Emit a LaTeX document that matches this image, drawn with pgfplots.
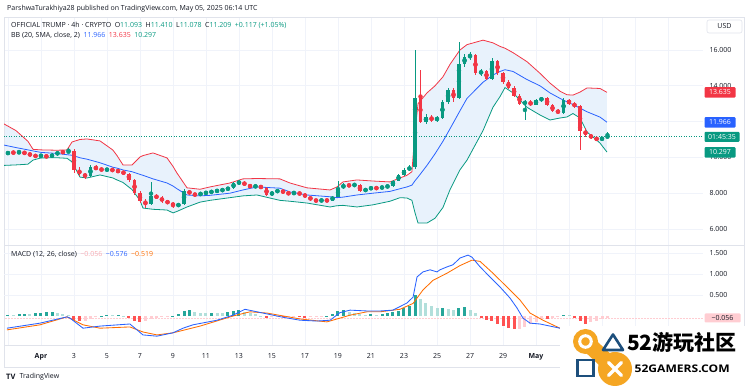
\documentclass[border=0pt]{standalone}
\usepackage{pgfplots}
\usepackage{pgfplotstable}
\pgfplotsset{compat=1.18}
\usepgfplotslibrary{fillbetween}
\usepackage{fontspec}
\setmainfont{Open Sans}
\newfontfamily\cjk{Noto Sans CJK SC}
\definecolor{tvgreen}{HTML}{089981}
\definecolor{tvred}{HTML}{F23645}
\definecolor{tvblue}{HTML}{2962FF}
\definecolor{tvorange}{HTML}{FF6D00}
\definecolor{bbfill}{HTML}{E8F2FC}
\definecolor{gridc}{HTML}{F0F3FA}
\definecolor{framec}{HTML}{E0E3EB}
\definecolor{txt}{HTML}{131722}
\definecolor{hdg}{HTML}{26A69A}
\definecolor{hlg}{HTML}{B2DFDB}
\definecolor{hdr}{HTML}{FF5252}
\definecolor{hlr}{HTML}{FFCDD2}
\definecolor{pinkt}{HTML}{F7A8AE}
\definecolor{wmorange}{HTML}{F5A623}
\definecolor{wmblue}{HTML}{1D4F7C}

\pgfplotstableread{
d o h l c
-2.33 10.15 10.32 10.08 10.20
-2.00 10.20 10.35 10.14 10.28
-1.67 10.28 10.36 10.18 10.25
-1.33 10.25 10.40 10.20 10.30
-1.00 10.30 10.34 10.15 10.22
-0.67 10.22 10.27 10.05 10.12
-0.33 10.12 10.18 9.98 10.05
0.00 10.05 10.20 10.00 10.10
0.33 10.10 10.16 9.95 10.02
0.67 10.02 10.22 9.98 10.15
1.00 10.15 10.36 10.10 10.30
1.33 10.30 10.40 10.20 10.28
1.67 10.28 10.52 10.22 10.35
2.00 10.35 10.45 9.15 9.30
2.33 9.30 9.45 8.95 9.05
2.67 9.05 9.15 8.80 8.95
3.00 8.95 9.55 8.90 9.45
3.33 9.45 9.55 9.28 9.35
3.67 9.35 9.42 9.22 9.30
4.00 9.30 9.40 9.24 9.32
4.33 9.32 9.38 9.20 9.28
4.67 9.28 9.34 9.12 9.20
5.00 9.20 9.26 9.02 9.10
5.33 9.10 9.15 8.65 8.75
5.67 8.75 8.80 7.90 8.00
6.00 8.00 8.10 7.45 7.55
6.33 7.55 7.70 7.18 7.40
6.67 7.40 8.60 7.35 7.85
7.00 7.85 7.95 7.65 7.75
7.33 7.75 7.82 7.48 7.55
7.67 7.55 7.62 7.38 7.45
8.00 7.45 7.52 7.15 7.30
8.33 7.30 7.45 7.22 7.38
8.67 7.38 8.22 7.35 8.15
9.00 8.15 8.20 7.88 7.95
9.33 7.95 8.02 7.82 7.90
9.67 7.90 8.08 7.85 8.00
10.00 8.00 8.10 7.92 8.05
10.33 8.05 8.16 7.98 8.10
10.67 8.10 8.22 8.04 8.15
11.00 8.15 8.26 8.08 8.20
11.33 8.20 8.36 8.14 8.30
11.67 8.30 8.62 8.25 8.55
12.00 8.55 8.72 8.48 8.62
12.33 8.62 8.66 8.40 8.45
12.67 8.45 8.50 8.28 8.35
13.00 8.35 8.48 8.30 8.40
13.33 8.40 8.44 8.24 8.30
13.67 8.30 8.34 7.85 7.90
14.00 7.90 8.12 7.86 8.05
14.33 8.05 8.24 8.00 8.18
14.67 8.18 8.22 7.95 8.00
15.00 8.00 8.08 7.92 7.98
15.33 7.98 8.10 7.94 8.02
15.67 8.02 8.06 7.90 7.95
16.00 7.95 7.99 7.74 7.80
16.33 7.80 7.84 7.58 7.62
16.67 7.62 7.68 7.50 7.56
17.00 7.56 7.68 7.52 7.62
17.33 7.62 7.66 7.52 7.58
17.67 7.58 7.86 7.55 7.80
18.00 7.80 8.70 7.76 8.30
18.33 8.30 8.55 8.25 8.45
18.67 8.45 8.52 8.36 8.42
19.00 8.42 8.56 8.38 8.48
19.33 8.48 8.52 8.05 8.10
19.67 8.10 8.30 8.06 8.25
20.00 8.25 8.36 8.20 8.30
20.33 8.30 8.34 8.22 8.28
20.67 8.28 8.40 8.24 8.35
21.00 8.35 8.46 8.30 8.40
21.33 8.40 8.76 8.36 8.70
21.67 8.70 9.06 8.66 9.00
22.00 9.00 9.38 8.95 9.30
22.33 9.30 9.55 9.22 9.45
22.67 9.45 16.00 9.35 13.30
23.00 13.30 14.90 11.90 12.00
23.33 12.00 12.40 11.85 12.25
23.67 12.25 12.35 11.95 12.10
24.00 12.10 12.30 11.98 12.20
24.33 12.20 13.20 12.15 13.10
24.67 13.10 13.90 13.00 13.75
25.00 13.75 13.85 13.10 13.30
25.33 13.30 16.45 13.25 15.20
25.67 15.20 15.80 15.05 15.60
26.00 15.60 15.90 15.45 15.70
26.33 15.70 15.75 14.60 14.70
26.67 14.70 14.95 14.55 14.80
27.00 14.80 14.88 14.30 14.40
27.33 14.40 15.55 14.35 15.40
27.67 15.40 15.45 14.60 14.70
28.00 14.70 14.78 14.10 14.20
28.33 14.20 14.30 13.80 13.90
28.67 13.90 13.98 13.35 13.45
29.00 13.45 13.55 12.95 13.00
29.33 13.00 13.20 12.10 13.10
29.67 13.10 13.18 12.85 12.95
30.00 12.95 13.28 12.90 13.20
30.33 13.20 13.40 13.10 13.30
30.67 13.30 13.35 12.85 12.90
31.00 12.90 12.96 12.55 12.60
31.33 12.60 12.70 12.42 12.50
31.67 12.50 13.30 12.45 13.20
32.00 13.20 13.28 12.92 13.00
32.33 13.00 13.08 12.78 12.85
32.67 12.85 12.92 10.40 11.50
33.00 11.50 11.62 11.15 11.25
33.33 11.25 11.32 11.02 11.10
33.67 11.10 11.16 10.90 10.98
34.00 10.98 11.15 10.94 11.09
34.33 11.093 11.41 11.078 11.209
}\candles

\pgfplotstableread{
d u m lo
-2.30 11.90 10.70 9.55
-1.52 11.50 10.55 9.58
-0.79 10.90 10.42 9.62
-0.48 10.45 10.36 9.85
0.00 10.42 10.28 9.97
0.97 10.40 10.22 9.98
1.58 10.42 10.15 9.95
1.88 10.86 10.12 9.75
2.36 11.00 9.98 8.90
2.79 11.03 9.90 8.85
3.58 10.92 9.70 9.02
4.36 10.41 9.45 8.85
4.61 10.10 9.40 8.74
4.97 9.58 9.30 8.60
5.52 9.58 9.20 8.20
6.00 10.02 9.05 7.60
6.18 10.10 9.00 7.17
6.79 10.25 8.80 7.10
7.64 9.97 8.57 7.06
8.00 9.50 8.40 6.90
8.24 9.13 8.25 6.98
8.85 8.30 7.90 7.23
9.64 8.22 7.85 7.50
10.24 8.35 7.88 7.60
11.45 8.57 8.00 7.75
12.24 8.80 8.18 7.85
13.09 8.82 8.35 7.90
14.48 8.80 8.28 7.60
15.09 8.57 8.07 7.55
16.12 8.30 7.90 7.45
17.52 8.18 7.80 7.23
17.94 8.35 7.75 7.30
18.30 8.63 7.78 7.32
19.15 8.74 7.90 7.23
20.12 8.68 8.00 7.35
21.15 8.63 8.10 7.55
21.76 8.85 8.25 7.75
22.18 9.00 8.35 7.73
22.48 9.20 8.45 7.60
22.67 11.50 8.70 6.90
22.85 13.00 8.90 6.33
23.39 13.60 9.55 6.33
23.88 14.00 10.20 6.60
24.36 14.50 10.90 7.20
24.79 15.20 11.60 8.20
25.39 16.00 12.60 9.30
25.82 16.30 13.30 9.85
26.79 16.55 14.20 11.50
27.39 16.40 14.60 12.80
27.82 16.20 14.80 13.40
28.12 16.10 14.90 13.90
28.61 15.85 14.80 13.60
29.45 15.35 14.35 12.80
30.24 14.70 14.00 12.37
30.85 14.15 13.60 12.09
31.45 13.70 13.30 12.20
31.88 13.50 13.10 12.26
32.24 13.48 12.95 12.45
32.67 13.65 12.75 12.20
33.09 13.88 12.55 11.42
33.88 13.85 12.25 10.80
34.30 13.635 11.966 10.297
}\bands

\pgfplotstableread{
d v
-2.06 -0.29
-0.06 -0.17
1.58 -0.02
1.76 -0.05
2.55 -0.29
3.58 -0.24
5.39 -0.19
5.82 -0.33
6.18 -0.45
7.03 -0.48
8.00 -0.40
8.61 -0.29
9.21 -0.21
10.67 -0.10
11.64 0.02
12.36 0.16
12.85 0.12
13.70 0.05
14.67 -0.03
15.70 -0.10
16.73 -0.12
17.52 -0.10
18.12 0.08
18.73 0.14
19.76 0.12
20.55 0.12
21.33 0.14
22.18 0.31
22.55 0.45
22.79 0.93
23.15 1.05
23.58 1.10
24.00 1.05
24.18 1.10
24.61 1.17
24.97 1.22
25.39 1.38
25.88 1.45
26.12 1.40
26.61 1.17
27.21 0.93
27.82 0.69
28.42 0.43
28.85 0.19
29.21 -0.05
29.64 -0.17
30.24 -0.19
30.85 -0.24
31.45 -0.29
32.36 -0.40
33.27 -0.50
34.18 -0.576
}\macd

\pgfplotstableread{
d v
-2.06 -0.33
-0.06 -0.21
1.58 -0.02
2.55 -0.21
3.58 -0.29
5.39 -0.26
6.18 -0.38
7.03 -0.45
8.00 -0.40
9.64 -0.24
11.64 0.00
12.67 0.10
13.70 0.07
15.70 -0.07
17.33 -0.14
18.73 0.02
19.76 0.10
20.55 0.10
21.76 0.16
22.55 0.30
23.15 0.62
23.76 0.85
24.61 1.02
25.39 1.20
26.12 1.33
26.61 1.30
27.39 1.02
28.24 0.69
29.03 0.38
29.64 0.07
30.42 -0.10
31.45 -0.29
32.36 -0.40
33.27 -0.47
34.18 -0.519
}\signal

\pgfplotstableread{
d hv cl
-2.33 0.02 2
-2.00 0.03 1
-1.67 0.02 2
-1.33 0.04 1
-1.00 0.05 1
-0.67 0.04 2
-0.33 0.06 1
0.00 0.08 1
0.33 0.09 1
0.67 0.10 1
1.00 0.07 2
1.33 0.05 2
1.67 0.02 2
2.00 -0.10 3
2.33 -0.13 3
2.67 -0.11 4
3.00 -0.06 4
3.33 -0.02 4
3.67 0.01 1
4.00 0.02 1
4.33 0.02 2
4.67 0.02 1
5.00 0.01 2
5.33 -0.04 3
5.67 -0.12 3
6.00 -0.15 3
6.33 -0.12 4
6.67 -0.07 4
7.00 -0.04 4
7.33 -0.02 4
7.67 -0.01 4
8.00 0.01 1
8.33 0.05 1
8.67 0.12 1
9.00 0.14 1
9.33 0.10 2
9.67 0.08 2
10.00 0.07 2
10.33 0.08 1
10.67 0.07 2
11.00 0.06 2
11.33 0.09 1
11.67 0.12 1
12.00 0.14 1
12.33 0.10 2
12.67 0.07 2
13.00 0.04 2
13.33 0.01 2
13.67 -0.04 3
14.00 -0.03 4
14.33 -0.02 4
14.67 -0.03 3
15.00 -0.03 4
15.33 -0.02 4
15.67 -0.03 3
16.00 -0.04 3
16.33 -0.03 4
16.67 -0.02 4
17.00 -0.01 4
17.33 0.01 1
17.67 0.05 1
18.00 0.11 1
18.33 0.14 1
18.67 0.10 2
19.00 0.07 2
19.33 0.04 2
19.67 0.03 2
20.00 0.04 1
20.33 0.03 2
20.67 0.05 1
21.00 0.06 1
21.33 0.09 1
21.67 0.12 1
22.00 0.18 1
22.33 0.25 1
22.67 0.50 1
23.00 0.40 2
23.33 0.32 2
23.67 0.25 2
24.00 0.18 2
24.33 0.20 1
24.67 0.16 2
25.00 0.14 2
25.33 0.20 1
25.67 0.22 1
26.00 0.15 2
26.33 0.06 2
26.67 -0.05 3
27.00 -0.10 3
27.33 -0.12 3
27.67 -0.18 3
28.00 -0.24 3
28.33 -0.28 3
28.67 -0.32 3
29.00 -0.30 4
29.33 -0.26 4
29.67 -0.20 4
30.00 -0.14 4
30.33 -0.08 4
30.67 -0.06 3
31.00 -0.04 4
31.33 -0.02 4
31.67 0.03 1
32.00 0.02 2
32.33 -0.05 3
32.67 -0.12 3
33.00 -0.18 3
33.33 -0.15 4
33.67 -0.11 4
34.00 -0.08 4
34.33 -0.056 4
}\hist

\newcommand{\sfs}{\fontsize{7}{8.4}\selectfont}

\begin{document}
\begin{tikzpicture}
\begin{scope}[x=1pt,y=1pt]
\draw[framec, line width=0.6pt] (4,370) rectangle (744,20);
\draw[framec, line width=0.6pt] (4,141.5) -- (744,141.5);
\draw[framec, line width=0.6pt] (4,42) -- (744,42);
\end{scope}

% ---------- price pane ----------
\begin{axis}[
  at={(4pt,142pt)}, anchor=south west, scale only axis,
  width=699pt, height=228pt,
  xmin=-2.24, xmax=40.12, ymin=5.106, ymax=17.844,
  axis line style={draw=none},
  major tick length=0pt,
  xtick={-2,0,...,38}, xticklabels={},
  ytick={6,8,10,12,14,16},
  yticklabels={6.000,8.000,10.000,12.000,14.000,16.000},
  yticklabel pos=right,
  yticklabel style={font=\sfs, text=txt, anchor=west, xshift=3pt},
  xmajorgrids, ymajorgrids,
  grid style={gridc, line width=0.6pt},
]
\addplot[draw=none, name path=U, forget plot] table[x=d,y=u]{\bands};
\addplot[draw=none, name path=L, forget plot] table[x=d,y=lo]{\bands};
\addplot[fill=bbfill, draw=none, forget plot] fill between[of=U and L];
\addplot[tvred, line width=0.8pt, forget plot] table[x=d,y=u]{\bands};
\addplot[tvblue, line width=0.8pt, forget plot] table[x=d,y=m]{\bands};
\addplot[tvgreen, line width=0.8pt, forget plot] table[x=d,y=lo]{\bands};
\addplot[tvgreen, line width=0.5pt, dotted, forget plot] coordinates {(-3,11.209) (41,11.209)};
% wicks
\addplot[color=tvgreen, only marks, mark=none, forget plot,
  restrict expr to domain={\thisrow{c}-\thisrow{o}}{0:100},
  error bars/.cd, y dir=both, y explicit, error mark=none,
  error bar style={color=tvgreen, line width=0.7pt}]
  table[x=d, y expr={(\thisrow{h}+\thisrow{l})/2}, y error expr={(\thisrow{h}-\thisrow{l})/2}]{\candles};
\addplot[color=tvred, only marks, mark=none, forget plot,
  restrict expr to domain={\thisrow{c}-\thisrow{o}}{-100:-0.00001},
  error bars/.cd, y dir=both, y explicit, error mark=none,
  error bar style={color=tvred, line width=0.7pt}]
  table[x=d, y expr={(\thisrow{h}+\thisrow{l})/2}, y error expr={(\thisrow{h}-\thisrow{l})/2}]{\candles};
% bodies
\addplot[color=tvgreen, only marks, mark=none, forget plot,
  restrict expr to domain={\thisrow{c}-\thisrow{o}}{0:100},
  error bars/.cd, y dir=both, y explicit, error mark=none,
  error bar style={color=tvgreen, line width=3.4pt}]
  table[x=d, y expr={(\thisrow{o}+\thisrow{c})/2}, y error expr={max(abs(\thisrow{c}-\thisrow{o})/2,0.03)}]{\candles};
\addplot[color=tvred, only marks, mark=none, forget plot,
  restrict expr to domain={\thisrow{c}-\thisrow{o}}{-100:-0.00001},
  error bars/.cd, y dir=both, y explicit, error mark=none,
  error bar style={color=tvred, line width=3.4pt}]
  table[x=d, y expr={(\thisrow{o}+\thisrow{c})/2}, y error expr={max(abs(\thisrow{c}-\thisrow{o})/2,0.03)}]{\candles};
\end{axis}

% ---------- MACD pane ----------
\begin{axis}[
  at={(4pt,42pt)}, anchor=south west, scale only axis,
  width=699pt, height=99pt,
  xmin=-2.24, xmax=40.12, ymin=-0.690, ymax=1.667,
  axis line style={draw=none},
  major tick length=0pt,
  xtick={-2,0,...,38},
  xticklabels={,\textbf{Apr},3,5,7,9,11,13,15,17,19,21,23,25,27,29,\textbf{May},,,,},
  xticklabel style={font=\sfs, text=txt, yshift=-5pt},
  ytick={0.5,1,1.5},
  yticklabels={0.500,1.000,1.500},
  yticklabel pos=right,
  yticklabel style={font=\sfs, text=txt, anchor=west, xshift=3pt},
  xmajorgrids, ymajorgrids,
  grid style={gridc, line width=0.6pt},
]
\addplot[hlr, line width=0.5pt, densely dotted, forget plot] coordinates {(-3,-0.056) (41,-0.056)};
\addplot[ycomb, draw=hdg, line width=3pt, forget plot, restrict expr to domain={\thisrow{cl}}{0.5:1.5}] table[x=d,y=hv]{\hist};
\addplot[ycomb, draw=hlg, line width=3pt, forget plot, restrict expr to domain={\thisrow{cl}}{1.5:2.5}] table[x=d,y=hv]{\hist};
\addplot[ycomb, draw=hdr, line width=3pt, forget plot, restrict expr to domain={\thisrow{cl}}{2.5:3.5}] table[x=d,y=hv]{\hist};
\addplot[ycomb, draw=hlr, line width=3pt, forget plot, restrict expr to domain={\thisrow{cl}}{3.5:4.5}] table[x=d,y=hv]{\hist};
\addplot[tvorange, line width=0.85pt, forget plot] table[x=d,y=v]{\signal};
\addplot[tvblue, line width=0.85pt, forget plot] table[x=d,y=v]{\macd};
\end{axis}

\begin{scope}[x=1pt,y=1pt]
% ---------- texts ----------
\node[anchor=west, inner sep=0pt, text=txt, font=\sfs] at (7,378) {ParshwaTurakhiya28 published on TradingView.com, May 05, 2025 06:14 UTC};
\node[anchor=west, inner sep=0pt, text=txt, font=\sfs] at (11,362) {OFFICIAL TRUMP · 4h · CRYPTO\enspace O\textcolor{tvgreen}{11.093}\enspace H\textcolor{tvgreen}{11.410}\enspace L\textcolor{tvgreen}{11.078}\enspace C\textcolor{tvgreen}{11.209}\enspace\textcolor{tvgreen}{+0.117 (+1.05\%)}};
\node[anchor=west, inner sep=0pt, text=txt, font=\sfs] at (11,351.5) {BB (20, SMA, close, 2)\enspace\textcolor{tvblue}{11.966}\enspace\textcolor{tvred}{13.635}\enspace\textcolor{tvgreen}{10.297}};
\node[anchor=west, inner sep=0pt, text=txt, font=\sfs] at (11,132.5) {MACD (12, 26, close)\enspace\textcolor{pinkt}{−0.056}\enspace\textcolor{tvblue}{−0.576}\enspace\textcolor{tvorange}{−0.519}};

% USD box
\draw[framec, rounded corners=2pt, line width=0.6pt] (707,367) rectangle (742,354);
\node[text=txt, font=\sfs, inner sep=0pt] at (724.5,360.5) {USD};

% tags
\node[fill=tvred, text=white, rounded corners=1pt, minimum width=31pt, minimum height=10.5pt, inner sep=0pt, font=\sfs] at (720,294.5) {13.635};
\node[fill=tvblue, text=white, rounded corners=1pt, minimum width=31pt, minimum height=10.5pt, inner sep=0pt, font=\sfs] at (720,264.5) {11.966};
\node[fill=tvgreen, text=white, rounded corners=1pt, minimum width=35pt, minimum height=10pt, inner sep=0pt, font=\sfs] at (722,250) {01:45:35};
\node[fill=tvgreen, text=white, rounded corners=1pt, minimum width=31pt, minimum height=10.5pt, inner sep=0pt, font=\sfs] at (720,234.5) {10.297};
\node[fill=hlr, text=txt, rounded corners=1pt, minimum width=36pt, minimum height=9pt, inner sep=0pt, font=\sfs] at (722.5,69) {−0.056};

% TradingView logo
\node[anchor=west, inner sep=0pt, text=txt, font=\fontsize{7.5}{9}\selectfont\bfseries] at (6,10) {TV};
\node[anchor=west, inner sep=0pt, text=txt, font=\sfs] at (19.5,10) {TradingView};

% ---------- watermark ----------
\fill[white] (560,0) rectangle (750,61);
\draw[wmorange, line width=16pt] (585.5,45.5) -- (615,18);
\fill[wmorange] (585.5,45.5) circle (12.5);
\fill[wmorange] (615,18) circle (17);
\draw[white, line width=3pt] (585.5,45.5) circle (5.8);
\draw[white, line width=3.5pt, line cap=round] (608.5,24.5) -- (621.5,11.5) (608.5,11.5) -- (621.5,24.5);
\draw[wmblue, line width=2.6pt, line join=round] (603,37) -- (623,37) -- (613,52.5) -- cycle;
\draw[wmblue, line width=2.6pt] (577.5,27) rectangle (593.5,11);
\node[anchor=west, inner sep=0pt, text=black] at (627,44.5) {\cjk\bfseries\fontsize{21}{21}\selectfont 52游玩社区};
\node[anchor=west, inner sep=0pt, text=black] at (634.5,18) {\scalebox{1.15}[1]{\bfseries\fontsize{10.5}{11}\selectfont 52GAMERS.COM}};
\end{scope}

\pgfresetboundingbox
\useasboundingbox (0,0) rectangle (750pt,387pt);
\end{tikzpicture}
\end{document}
